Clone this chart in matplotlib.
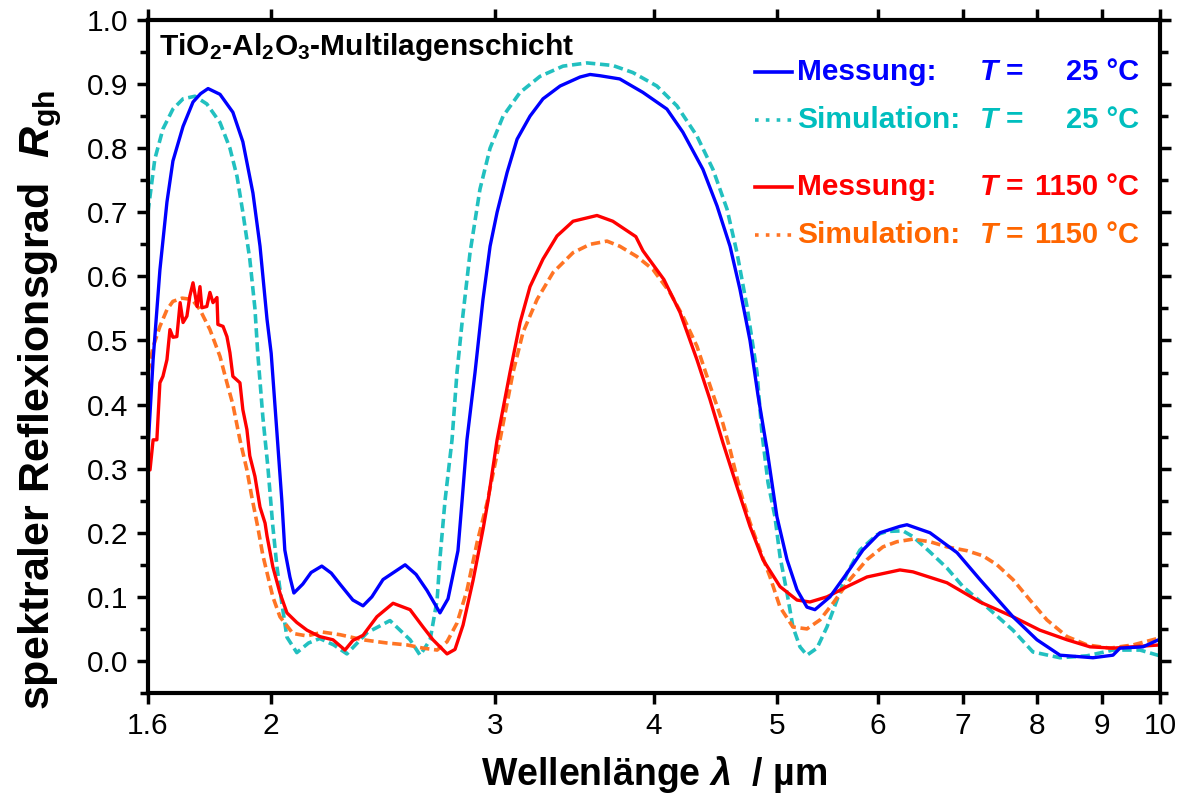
import matplotlib
matplotlib.use("Agg")
import matplotlib.pyplot as plt
import numpy as np
from matplotlib.ticker import NullLocator, MultipleLocator

# Messung T = 25 °C
wl_mess25 = [1.600, 1.615, 1.635, 1.656, 1.674, 1.705, 1.736, 1.760, 1.784, 1.823, 1.866, 1.900, 1.935,
             1.960, 1.985, 2.000, 2.021, 2.039, 2.050, 2.069, 2.084, 2.118, 2.150, 2.192, 2.230, 2.265,
             2.319, 2.362, 2.400, 2.449, 2.549, 2.600, 2.652, 2.715, 2.755, 2.805, 2.826, 2.851, 2.893,
             2.935, 2.973, 3.011, 3.066, 3.122, 3.196, 3.272, 3.375, 3.499, 3.563, 3.628, 3.760, 3.921,
             4.095, 4.215, 4.371, 4.484, 4.591, 4.674, 4.760, 4.829, 4.909, 4.998, 5.090, 5.183, 5.277,
             5.354, 5.502, 5.674, 5.840, 6.023, 6.245, 6.325, 6.594, 6.925, 7.219, 7.663, 8.004, 8.345,
             8.858, 9.185, 9.302, 9.698, 10.0]
r_mess25 = [0.33, 0.47, 0.61, 0.716, 0.78, 0.834, 0.872, 0.885, 0.893, 0.884, 0.856, 0.81, 0.73,
            0.647, 0.533, 0.48, 0.356, 0.25, 0.173, 0.131, 0.106, 0.12, 0.138, 0.148, 0.137, 0.12,
            0.095, 0.086, 0.10, 0.127, 0.15, 0.135, 0.11, 0.075, 0.097, 0.172, 0.25, 0.345, 0.45,
            0.564, 0.647, 0.70, 0.762, 0.814, 0.85, 0.877, 0.897, 0.911, 0.915, 0.913, 0.908, 0.887,
            0.861, 0.825, 0.767, 0.71, 0.647, 0.58, 0.50, 0.415, 0.33, 0.225, 0.158, 0.111, 0.084,
            0.08, 0.10, 0.137, 0.173, 0.20, 0.21, 0.2125, 0.20, 0.169, 0.127, 0.069, 0.033, 0.009,
            0.005, 0.009, 0.02, 0.022, 0.034]

# Simulation T = 25 °C
wl_sim25 = [1.600, 1.606, 1.620, 1.644, 1.674, 1.705, 1.742, 1.780, 1.823, 1.856, 1.880, 1.900, 1.924,
            1.942, 1.952, 1.970, 1.988, 2.006, 2.021, 2.039, 2.058, 2.095, 2.140, 2.184, 2.240, 2.294,
            2.379, 2.480, 2.572, 2.619, 2.667, 2.701, 2.715, 2.740, 2.775, 2.800, 2.826, 2.867, 2.919,
            2.973, 3.044, 3.139, 3.254, 3.393, 3.544, 3.713, 3.850, 4.021, 4.170, 4.324, 4.451, 4.566,
            4.649, 4.734, 4.821, 4.864, 4.918, 4.980, 5.026, 5.090, 5.145, 5.211, 5.277, 5.374, 5.472,
            5.572, 5.674, 5.809, 5.991, 6.100, 6.279, 6.394, 6.594, 6.800, 7.000, 7.311, 7.663, 7.946,
            8.345, 8.763, 9.185, 9.645, 10.0]
r_sim25 = [0.70, 0.725, 0.783, 0.83, 0.861, 0.877, 0.881, 0.869, 0.84, 0.80, 0.756, 0.70, 0.627,
           0.55, 0.48, 0.381, 0.303, 0.21, 0.147, 0.09, 0.037, 0.013, 0.028, 0.035, 0.025, 0.011,
           0.044, 0.063, 0.033, 0.009, 0.033, 0.095, 0.16, 0.25, 0.345, 0.45, 0.528, 0.637, 0.736,
           0.80, 0.85, 0.887, 0.912, 0.928, 0.933, 0.929, 0.918, 0.897, 0.866, 0.819, 0.767, 0.705,
           0.637, 0.553, 0.45, 0.356, 0.278, 0.225, 0.163, 0.106, 0.053, 0.022, 0.009, 0.02, 0.053,
           0.095, 0.137, 0.173, 0.197, 0.202, 0.203, 0.194, 0.17, 0.145, 0.116, 0.084, 0.048, 0.014,
           0.005, 0.008, 0.017, 0.017, 0.008]

# Messung T = 1150 °C
wl_mess1150 = [1.600, 1.606, 1.615, 1.626, 1.635, 1.644, 1.656, 1.665, 1.674, 1.686, 1.696, 1.705,
               1.717, 1.726, 1.736, 1.749, 1.758, 1.764, 1.780, 1.790, 1.800, 1.813, 1.816, 1.833,
               1.846, 1.856, 1.866, 1.890, 1.900, 1.914, 1.924, 1.942, 1.960, 1.978, 1.985, 2.006,
               2.032, 2.058, 2.095, 2.134, 2.184, 2.237, 2.286, 2.319, 2.362, 2.422, 2.494, 2.572,
               2.633, 2.681, 2.750, 2.790, 2.831, 2.883, 2.935, 2.962, 3.011, 3.082, 3.139, 3.196,
               3.272, 3.356, 3.455, 3.608, 3.713, 3.871, 3.921, 4.073, 4.193, 4.324, 4.427, 4.533,
               4.649, 4.760, 4.873, 5.026, 5.183, 5.306, 5.472, 5.674, 5.883, 6.245, 6.394, 6.800,
               7.219, 7.663, 8.047, 8.452, 8.811, 9.185, 10.0]
r_mess1150 = [0.30, 0.298, 0.345, 0.345, 0.434, 0.444, 0.47, 0.517, 0.505, 0.506, 0.559, 0.528,
              0.538, 0.569, 0.59, 0.553, 0.584, 0.551, 0.553, 0.575, 0.559, 0.567, 0.525, 0.522,
              0.506, 0.481, 0.444, 0.434, 0.392, 0.361, 0.32, 0.288, 0.24, 0.215, 0.195, 0.147,
              0.106, 0.075, 0.06, 0.048, 0.038, 0.033, 0.017, 0.032, 0.04, 0.069, 0.09, 0.08,
              0.053, 0.033, 0.011, 0.018, 0.056, 0.126, 0.205, 0.25, 0.345, 0.45, 0.528, 0.584,
              0.627, 0.663, 0.686, 0.695, 0.686, 0.662, 0.640, 0.595, 0.544, 0.47, 0.408, 0.34,
              0.272, 0.21, 0.158, 0.116, 0.095, 0.092, 0.10, 0.116, 0.131, 0.142, 0.139, 0.122,
              0.092, 0.069, 0.048, 0.033, 0.022, 0.02, 0.025]

# Simulation T = 1150 °C
wl_sim1150 = [1.600, 1.606, 1.615, 1.635, 1.656, 1.674, 1.702, 1.733, 1.758, 1.790, 1.823, 1.846,
              1.866, 1.890, 1.914, 1.931, 1.952, 1.970, 2.006, 2.032, 2.080, 2.134, 2.196, 2.265,
              2.362, 2.467, 2.558, 2.633, 2.701, 2.750, 2.800, 2.851, 2.904, 2.957, 3.027, 3.099,
              3.156, 3.237, 3.332, 3.455, 3.563, 3.674, 3.760, 3.878, 3.992, 4.117, 4.215, 4.324,
              4.427, 4.533, 4.591, 4.674, 4.760, 4.847, 4.936, 5.026, 5.145, 5.277, 5.403, 5.532,
              5.704, 5.883, 6.056, 6.211, 6.394, 6.594, 6.800, 7.051, 7.258, 7.445, 7.663, 7.903,
              8.150, 8.452, 8.763, 9.135, 9.524, 10.0]
r_sim1150 = [0.45, 0.466, 0.49, 0.522, 0.548, 0.561, 0.566, 0.564, 0.548, 0.517, 0.475, 0.434,
             0.40, 0.345, 0.298, 0.256, 0.209, 0.165, 0.10, 0.069, 0.043, 0.039, 0.045, 0.041,
             0.033, 0.028, 0.025, 0.02, 0.017, 0.03, 0.059, 0.11, 0.185, 0.247, 0.345, 0.45,
             0.513, 0.564, 0.606, 0.637, 0.65, 0.655, 0.647, 0.631, 0.611, 0.575, 0.538, 0.491,
             0.43, 0.37, 0.33, 0.267, 0.216, 0.173, 0.131, 0.084, 0.053, 0.05, 0.064, 0.09,
             0.127, 0.158, 0.178, 0.186, 0.19, 0.186, 0.178, 0.172, 0.164, 0.15, 0.127, 0.095,
             0.064, 0.038, 0.025, 0.02, 0.025, 0.036]

x_ticks = [1.6, 2, 3, 4, 5, 6, 7, 8, 9, 10]
x_ticklabels = ["1.6", "2", "3", "4", "5", "6", "7", "8", "9", "10"]

legend_labels = ["Messung:", "Simulation:", "Messung:", "Simulation:"]
legend_temps = ["25 °C", "25 °C", "1150 °C", "1150 °C"]

# schrift
plt.rcParams['font.family'] = ['Liberation Sans', 'DejaVu Sans']
plt.rcParams['mathtext.fontset'] = 'custom'
plt.rcParams['mathtext.rm'] = 'Liberation Sans:bold'
plt.rcParams['mathtext.bf'] = 'Liberation Sans:bold'
plt.rcParams['mathtext.it'] = 'Liberation Sans:bold:italic'

c_blue = "#0000FF"
c_cyan = "#22C0C0"
c_red = "#FF0000"
c_orange = "#FF7424"
txt_colors = ["#0000FF", "#00BEBE", "#FF0000", "#FF6600"]
dash = (0, (2.6, 1.3))

fig = plt.figure(figsize=(11.99, 7.96), dpi=100)
ax = fig.add_axes([0.1234, 0.1294, 0.8440, 0.8455])

ax.plot(wl_sim25, r_sim25, color=c_cyan, lw=2.6, linestyle=dash)
ax.plot(wl_sim1150, r_sim1150, color=c_orange, lw=2.6, linestyle=dash)
ax.plot(wl_mess1150, r_mess1150, color=c_red, lw=2.4)
ax.plot(wl_mess25, r_mess25, color=c_blue, lw=2.4)

ax.set_xscale('log')
ax.set_xlim(1.6, 10)
ax.set_ylim(-0.05, 1.0)
ax.set_xticks(x_ticks)
ax.set_xticklabels(x_ticklabels)
ax.xaxis.set_minor_locator(NullLocator())
ax.set_yticks(np.arange(0, 1.01, 0.1))
ax.set_yticklabels([f"{v:.1f}" for v in np.arange(0, 1.01, 0.1)])
ax.yaxis.set_minor_locator(MultipleLocator(0.05))

ax.tick_params(which='both', direction='out', top=True, right=True, width=2.5, labelsize=21.5)
ax.tick_params(which='major', length=8, pad=6)
ax.tick_params(which='minor', length=6)
for sp in ax.spines.values():
    sp.set_linewidth(3)

ax.set_xlabel(r"Wellenlänge $\lambda$  / µm", fontsize=27, fontweight='bold', labelpad=10)
ax.set_ylabel(r"spektraler Reflexionsgrad  $R_{\mathrm{gh}}$", fontsize=31, fontweight='bold')
ax.yaxis.set_label_coords(-0.083, 0.435)

ax.text(0.011, 0.96, r"TiO$_2$-Al$_2$O$_3$-Multilagenschicht", transform=ax.transAxes,
        fontsize=21.5, fontweight='bold', va='center', ha='left')

# legende von hand
rows_y = [0.9227, 0.8514, 0.7519, 0.6805]
styles = ['-', (0, (1, 2)), '-', (0, (1, 2))]
line_cols = [c_blue, c_cyan, c_red, c_orange]
for i in range(4):
    y = rows_y[i]
    ax.plot([0.600, 0.636], [y, y], transform=ax.transAxes, color=line_cols[i],
            lw=2.6, linestyle=styles[i], clip_on=False)
    ax.text(0.6413, y, legend_labels[i], transform=ax.transAxes, color=txt_colors[i],
            fontsize=21.5, fontweight='bold', va='center', ha='left')
    ax.text(0.8211, y, r"$T$ =", transform=ax.transAxes, color=txt_colors[i],
            fontsize=21.5, fontweight='bold', va='center', ha='left')
    ax.text(0.9792, y, legend_temps[i], transform=ax.transAxes, color=txt_colors[i],
            fontsize=21, fontweight='bold', va='center', ha='right')

plt.savefig("out.png", dpi=100)
plt.close()
